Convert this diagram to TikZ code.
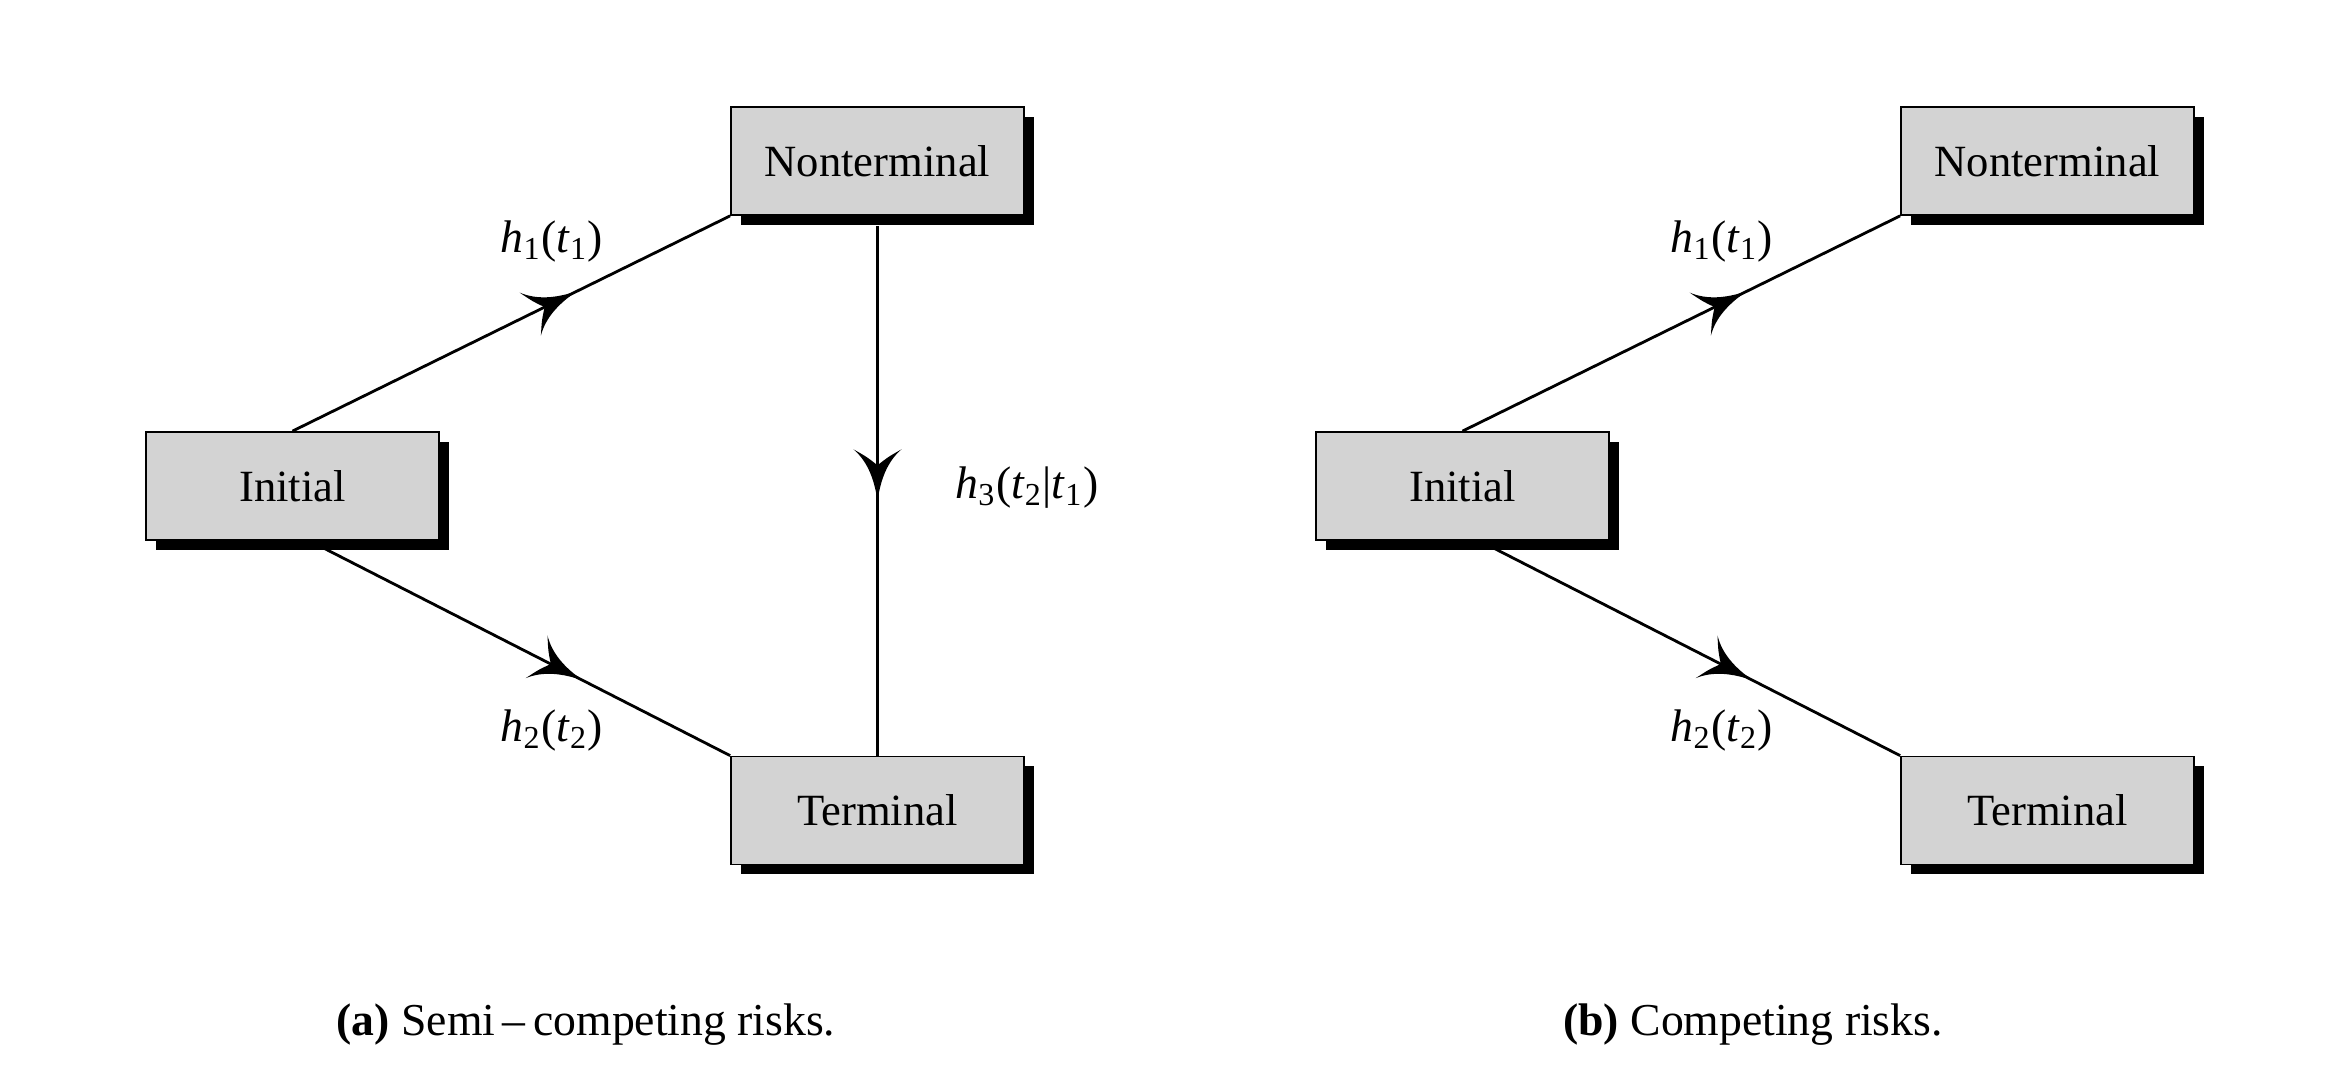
\documentclass[tikz,border=0pt]{standalone}
\usepackage{fontspec}
\setmainfont{Liberation Serif}
\usetikzlibrary{positioning,calc,shadows,decorations.markings}
\definecolor{boxgray}{RGB}{211,211,211}

\begin{document}
\begin{tikzpicture}
    % Setup the styles for the boxes and the arrows
        \tikzset{box style/.style={draw=black,
                                   line width=0.5pt,
                                   fill=boxgray,
                                   minimum width=2.93cm,
                                   minimum height=1.08cm,
                                   font=\fontsize{12.7}{15}\selectfont,
                                   drop shadow={shadow xshift=0.1cm,
                                                shadow yshift=-0.1cm,
                                                fill=black,
                                                opacity=1}},
                 link/.style={line width=0.8pt,
                              postaction={decorate},
                              decoration={markings,
                                          mark=at position #1 with {
                                            \fill (0,0) .. controls (-0.22,0.03) and (-0.4,0.1) .. (-0.52,0.24)
                                              .. controls (-0.44,0.1) .. (-0.36,0)
                                              .. controls (-0.44,-0.1) .. (-0.52,-0.24)
                                              .. controls (-0.4,-0.1) and (-0.22,-0.03) .. (0,0);}}},
                 rate/.style={font=\fontsize{13}{15}\selectfont},
                 caption/.style={font=\fontsize{13}{15}\selectfont}}
        \useasboundingbox (0,0) rectangle (23.4,10.8);

        % Semi-competing risks
        \node[box style] at (2.925, 5.94)  (init)    {Initial};
        \node[box style] at (8.775, 9.19)  (nonterm) {Nonterminal};
        \node[box style] at (8.775, 2.695) (term)    {Terminal};
        \coordinate (initlow) at ($(init.south)+(0.17,0)$);
        \coordinate (nontermlow) at ($(nonterm.south)+(0,-0.1)$);
        \draw[link=0.65] (init.north) -- (nonterm.south west);
        \draw[link=0.65] (initlow) -- (term.north west);
        \draw[link=0.52] (nontermlow) -- (term.north);
        \node[rate] at (5.52, 8.38)  (ha) {\textit{h}\textsubscript{1}(\textit{t}\textsubscript{1})};
        \node[rate] at (5.52, 3.49)  (hb) {\textit{h}\textsubscript{2}(\textit{t}\textsubscript{2})};
        \node[rate, anchor=west] at (9.43, 5.92) (hc) {\textit{h}\textsubscript{3}(\textit{t}\textsubscript{2}|\textit{t}\textsubscript{1})};
        \node[caption] at (5.86, 0.55) (capa) {\textbf{(a)} Semi\,–\,competing risks.};

        % Competing risks
        \node[box style] at (14.625, 5.94)  (initb)    {Initial};
        \node[box style] at (20.475, 9.19)  (nontermb) {Nonterminal};
        \node[box style] at (20.475, 2.695) (termb)    {Terminal};
        \coordinate (initblow) at ($(initb.south)+(0.17,0)$);
        \draw[link=0.65] (initb.north) -- (nontermb.south west);
        \draw[link=0.65] (initblow) -- (termb.north west);
        \node[rate] at (17.22, 8.38) (hd) {\textit{h}\textsubscript{1}(\textit{t}\textsubscript{1})};
        \node[rate] at (17.22, 3.49) (he) {\textit{h}\textsubscript{2}(\textit{t}\textsubscript{2})};
        \node[caption] at (17.53, 0.55) (capb) {\textbf{(b)} Competing risks.};
\end{tikzpicture}
\end{document}
